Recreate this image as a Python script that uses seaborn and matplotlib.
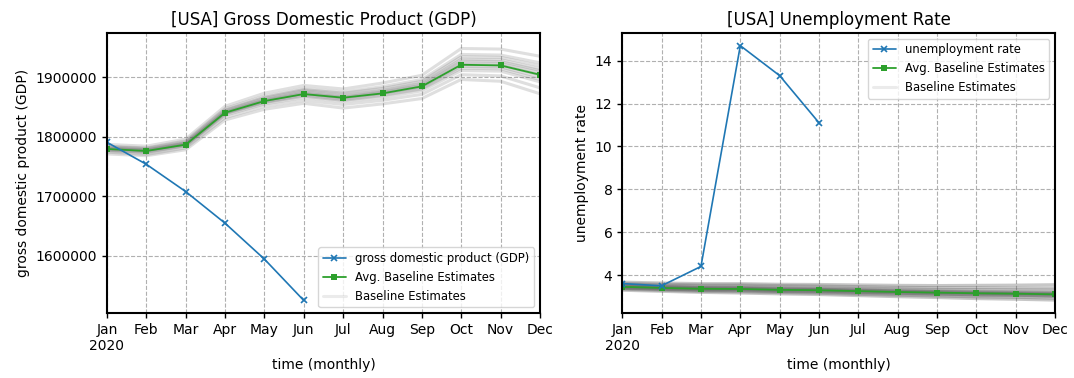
import matplotlib
matplotlib.use("Agg")
import matplotlib.pyplot as plt
import seaborn as sns

months = ["Jan\n2020", "Feb", "Mar", "Apr", "May", "Jun",
          "Jul", "Aug", "Sep", "Oct", "Nov", "Dec"]
month_idx = list(range(len(months)))

# Observed GDP (Jan-Jun 2020)
gdp_actual = [1790500, 1753600, 1707800, 1654700, 1594400, 1525000]
# Average of baseline GDP estimates
gdp_avg = [1779300, 1776000, 1786600, 1840200, 1859800, 1871500,
           1865400, 1872600, 1884400, 1920700, 1919600, 1903900]
# Individual baseline GDP estimates (thousands)
gdp_est_1 = [1787, 1784, 1796, 1851, 1873, 1886, 1880, 1890, 1903, 1948, 1947, 1935]
gdp_est_2 = [1784, 1781, 1793, 1847, 1868, 1881, 1875, 1884, 1896, 1938, 1937, 1924]
gdp_est_3 = [1782, 1779, 1790, 1844, 1864, 1877, 1870, 1878, 1890, 1930, 1929, 1914]
gdp_est_4 = [1780, 1777, 1788, 1841, 1861, 1873, 1866, 1875, 1886, 1924, 1923, 1908]
gdp_est_5 = [1778, 1775, 1786, 1839, 1858, 1870, 1863, 1871, 1882, 1918, 1917, 1900]
gdp_est_6 = [1776, 1773, 1784, 1836, 1855, 1866, 1859, 1866, 1877, 1911, 1910, 1892]
gdp_est_7 = [1774, 1770, 1781, 1832, 1851, 1861, 1854, 1861, 1871, 1904, 1902, 1882]
gdp_est_8 = [1771, 1768, 1778, 1828, 1846, 1856, 1848, 1855, 1864, 1896, 1893, 1872]
gdp_est_9 = [1779, 1776, 1787, 1840, 1860, 1872, 1865, 1873, 1884, 1921, 1920, 1904]
gdp_est_10 = [1781, 1778, 1789, 1842, 1862, 1875, 1868, 1876, 1888, 1927, 1926, 1911]
gdp_est_11 = [1777, 1774, 1785, 1838, 1857, 1868, 1861, 1869, 1880, 1915, 1914, 1896]
gdp_est_12 = [1783, 1780, 1791, 1845, 1866, 1879, 1873, 1881, 1893, 1934, 1933, 1919]
gdp_estimates = [gdp_est_1, gdp_est_2, gdp_est_3, gdp_est_4, gdp_est_5, gdp_est_6,
                 gdp_est_7, gdp_est_8, gdp_est_9, gdp_est_10, gdp_est_11, gdp_est_12]

# Observed unemployment rate (Jan-Jun 2020)
unemp_actual = [3.6, 3.5, 4.4, 14.7, 13.3, 11.1]
# Average of baseline unemployment estimates
unemp_avg = [3.45, 3.40, 3.36, 3.35, 3.31, 3.29, 3.25, 3.21, 3.18, 3.15, 3.13, 3.10]
# Individual baseline unemployment estimates
unemp_est_1 = [3.67, 3.63, 3.60, 3.60, 3.57, 3.56, 3.54, 3.52, 3.51, 3.52, 3.53, 3.55]
unemp_est_2 = [3.61, 3.57, 3.54, 3.54, 3.51, 3.49, 3.46, 3.43, 3.41, 3.41, 3.40, 3.40]
unemp_est_3 = [3.56, 3.52, 3.48, 3.48, 3.44, 3.42, 3.39, 3.36, 3.33, 3.32, 3.31, 3.30]
unemp_est_4 = [3.52, 3.47, 3.43, 3.42, 3.38, 3.36, 3.33, 3.29, 3.26, 3.24, 3.22, 3.20]
unemp_est_5 = [3.48, 3.43, 3.39, 3.38, 3.34, 3.32, 3.28, 3.24, 3.21, 3.18, 3.16, 3.14]
unemp_est_6 = [3.45, 3.40, 3.36, 3.35, 3.31, 3.29, 3.25, 3.21, 3.18, 3.15, 3.13, 3.10]
unemp_est_7 = [3.42, 3.37, 3.33, 3.32, 3.27, 3.25, 3.21, 3.17, 3.14, 3.11, 3.09, 3.06]
unemp_est_8 = [3.38, 3.33, 3.29, 3.27, 3.23, 3.21, 3.16, 3.12, 3.09, 3.05, 3.03, 3.00]
unemp_est_9 = [3.34, 3.29, 3.24, 3.22, 3.18, 3.15, 3.10, 3.06, 3.02, 2.98, 2.96, 2.92]
unemp_est_10 = [3.29, 3.24, 3.19, 3.16, 3.12, 3.09, 3.04, 2.99, 2.95, 2.90, 2.87, 2.83]
unemp_est_11 = [3.50, 3.45, 3.41, 3.40, 3.36, 3.34, 3.30, 3.26, 3.23, 3.20, 3.18, 3.16]
unemp_est_12 = [3.40, 3.35, 3.31, 3.30, 3.25, 3.23, 3.19, 3.15, 3.11, 3.08, 3.06, 3.03]
unemp_estimates = [unemp_est_1, unemp_est_2, unemp_est_3, unemp_est_4, unemp_est_5,
                   unemp_est_6, unemp_est_7, unemp_est_8, unemp_est_9, unemp_est_10,
                   unemp_est_11, unemp_est_12]

sns.set_style("ticks", {
    "axes.grid": True,
    "grid.linestyle": "--",
    "grid.color": "#b0b0b0",
    "axes.edgecolor": "black",
    "text.color": "black",
    "axes.labelcolor": "black",
    "xtick.color": "black",
    "ytick.color": "black",
})
plt.rcParams["font.family"] = ["DejaVu Sans"]
plt.rcParams["font.size"] = 10
plt.rcParams["grid.linewidth"] = 0.8
plt.rcParams["axes.linewidth"] = 1.5

fig, axes = plt.subplots(1, 2, figsize=(10.74, 3.78), dpi=100)
fig.subplots_adjust(left=0.0996, right=0.9825, top=0.9127, bottom=0.172, wspace=0.19)

BLUE = "#1f77b4"
GREEN = "#2ca02c"


def draw_panel(ax, estimates, scale, est_alpha, avg, actual, actual_label, title,
               ylabel, ylim, legend_loc):
    est_handle = None
    for i, est in enumerate(estimates):
        line_vals = [v * scale for v in est]
        sns.lineplot(x=month_idx, y=line_vals, ax=ax, color="#606060", alpha=est_alpha,
                     linewidth=2.2, legend=False)
        if i == 0:
            est_handle = ax.lines[-1]
    sns.lineplot(x=month_idx, y=avg, ax=ax, color=GREEN, linewidth=1.3,
                 marker="s", markersize=5, markeredgewidth=0,
                 markerfacecolor=GREEN, legend=False)
    avg_handle = ax.lines[-1]
    sns.lineplot(x=month_idx[:len(actual)], y=actual, ax=ax, color=BLUE, linewidth=1.2,
                 marker="x", markersize=4, markeredgewidth=1.2,
                 markeredgecolor=BLUE, legend=False)
    act_handle = ax.lines[-1]
    ax.set_xlim(0, 11)
    ax.set_ylim(*ylim)
    ax.set_xticks(month_idx)
    ax.set_xticklabels(months)
    ax.set_title(title, fontsize=12)
    ax.set_xlabel("time (monthly)")
    ax.set_ylabel(ylabel)
    ax.tick_params(axis="both", length=3.5, width=1.0, labelsize=10)
    leg = ax.legend([act_handle, avg_handle, est_handle],
                    [actual_label, "Avg. Baseline Estimates", "Baseline Estimates"],
                    loc=legend_loc, fontsize="small", framealpha=0.8)
    leg.legend_handles[2].set_alpha(0.12)


draw_panel(axes[0], gdp_estimates, 1000, 0.2, gdp_avg, gdp_actual,
           "gross domestic product (GDP)", "[USA] Gross Domestic Product (GDP)",
           "gross domestic product (GDP)", (1504000, 1974000), "lower right")
axes[0].ticklabel_format(axis="y", style="plain", useOffset=False)
axes[0].set_yticks([1600000, 1700000, 1800000, 1900000])

draw_panel(axes[1], unemp_estimates, 1, 0.35, unemp_avg, unemp_actual,
           "unemployment rate", "[USA] Unemployment Rate",
           "unemployment rate", (2.23, 15.29), "upper right")
axes[1].set_yticks([4, 6, 8, 10, 12, 14])

fig.savefig("out.png", dpi=100)
